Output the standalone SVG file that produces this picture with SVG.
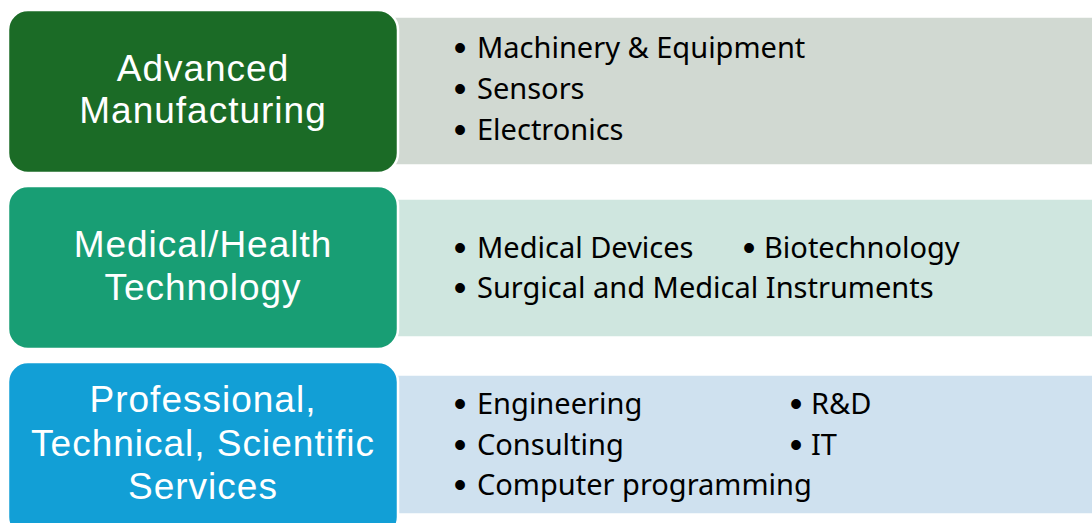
<svg xmlns="http://www.w3.org/2000/svg" width="1092" height="523" viewBox="0 0 1092 523">
  <style>
    .head { stroke: #ffffff; stroke-width: 2.5; }
    .panel { stroke: #ffffff; stroke-width: 1.5; }
    .title { font-family: "Liberation Sans", Arial, sans-serif; font-size: 37px; letter-spacing: 1px; fill: #ffffff; text-anchor: middle; }
    .item { font-family: "Noto Sans", "Liberation Sans", sans-serif; font-size: 29px; fill: #000000; }
    .dot { font-family: "Liberation Sans", sans-serif; font-size: 36px; fill: #000000; text-anchor: middle; }
  </style>
  <rect width="1092" height="523" fill="#ffffff"/>

  <!-- Row 1: Advanced Manufacturing -->
  <g id="row-manufacturing">
    <rect class="panel" x="380" y="17" width="724" height="148" rx="12" fill="#d1d9d2"/>
    <rect class="head" x="8" y="10" width="390" height="163" rx="20" fill="#1b6b26"/>
    <text class="title" x="203" y="81">Advanced</text>
    <text class="title" x="203" y="123">Manufacturing</text>
    <text class="dot" x="460" y="60">•</text><text class="item" x="477" y="58">Machinery &amp; Equipment</text>
    <text class="dot" x="460" y="101">•</text><text class="item" x="477" y="99">Sensors</text>
    <text class="dot" x="460" y="142">•</text><text class="item" x="477" y="140">Electronics</text>
  </g>

  <!-- Row 2: Medical/Health Technology -->
  <g id="row-medical">
    <rect class="panel" x="380" y="199" width="724" height="138" rx="12" fill="#cfe6df"/>
    <rect class="head" x="8" y="186" width="390" height="163" rx="20" fill="#189e74"/>
    <text class="title" x="203" y="257">Medical/Health</text>
    <text class="title" x="203" y="300">Technology</text>
    <text class="dot" x="460" y="260">•</text><text class="item" x="477" y="258">Medical Devices</text>
    <text class="dot" x="749" y="260">•</text><text class="item" x="764" y="258">Biotechnology</text>
    <text class="dot" x="460" y="300">•</text><text class="item" x="477" y="298">Surgical and Medical Instruments</text>
  </g>

  <!-- Row 3: Professional, Technical, Scientific Services -->
  <g id="row-services">
    <rect class="panel" x="380" y="375" width="724" height="139" rx="12" fill="#cfe1ef"/>
    <rect class="head" x="8" y="362" width="390" height="175" rx="20" fill="#129fd6"/>
    <text class="title" x="203" y="412">Professional,</text>
    <text class="title" x="203" y="456">Technical, Scientific</text>
    <text class="title" x="203" y="499">Services</text>
    <text class="dot" x="460" y="416">•</text><text class="item" x="477" y="414">Engineering</text>
    <text class="dot" x="796" y="416">•</text><text class="item" x="811" y="414">R&amp;D</text>
    <text class="dot" x="460" y="457">•</text><text class="item" x="477" y="455">Consulting</text>
    <text class="dot" x="796" y="457">•</text><text class="item" x="811" y="455">IT</text>
    <text class="dot" x="460" y="497">•</text><text class="item" x="477" y="495">Computer programming</text>
  </g>

  <g id="connectors"/>
</svg>
